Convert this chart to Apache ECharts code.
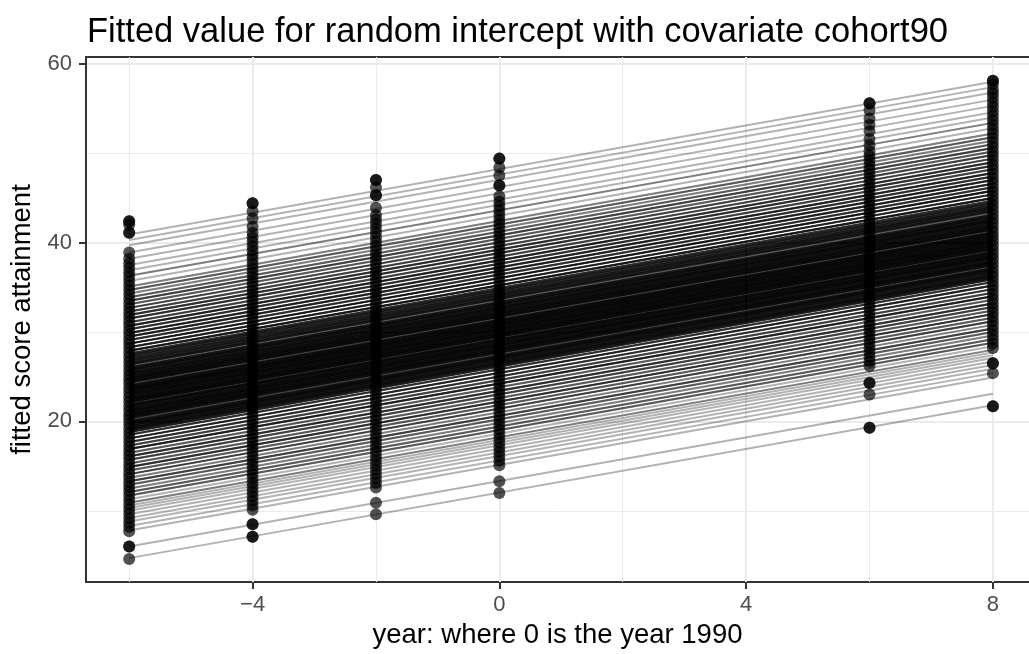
<!DOCTYPE html>
<html>
<head>
<meta charset="utf-8">
<title>Fitted value for random intercept with covariate cohort90</title>
<script src="https://cdn.jsdelivr.net/npm/echarts@6/dist/echarts.min.js"></script>
</head>
<body style="margin:0;background:#fff;">
<div id="main" style="width:1029px;height:654px;"></div>
<script>
// school lines run from the first to the last cohort year
var yearFrom = -6, yearTo = 8;

// fitted value of each school line at year -6 and at year 8
var lineStart = [4.7, 6.0, 7.8, 8.3, 8.8, 9.2, 9.6, 10.0, 10.3, 10.6,
  10.9, 11.3, 11.7, 12.1, 12.5, 12.9, 13.3, 13.7, 14.1, 14.5, 14.9, 15.3, 15.7, 16.1, 16.5, 16.9, 17.3, 17.7, 18.1, 18.5,
  18.8, 19.0, 19.2, 19.4, 19.6, 19.8, 20.0, 20.2, 20.4, 20.6, 20.8, 21.0, 21.2, 21.4, 21.6, 21.8, 22.0, 22.2, 22.4, 22.6,
  22.8, 23.0, 23.2, 23.4, 23.6, 23.8, 24.0, 24.2, 24.4, 24.6, 24.8, 25.0, 25.2, 25.4, 25.6, 25.8, 26.0, 26.2, 26.4, 26.6,
  26.8, 27.0, 27.2, 27.4, 27.6,
  27.9, 28.3, 28.7, 29.1, 29.5, 29.9, 30.3, 30.7, 31.1, 31.5, 31.9, 32.3, 32.7, 33.1, 33.5, 33.9, 34.3, 34.7,
  35.1, 35.7, 36.3, 36.9, 37.5, 38.2, 38.9, 39.7, 40.3, 40.9];
var lineEnd = [21.8, 23.1, 24.9, 25.4, 25.9, 26.3, 26.7, 27.1, 27.4, 27.7,
  28.0, 28.4, 28.8, 29.2, 29.6, 30.0, 30.4, 30.8, 31.2, 31.6, 32.0, 32.4, 32.8, 33.2, 33.6, 34.0, 34.4, 34.8, 35.2, 35.6,
  35.9, 36.1, 36.3, 36.5, 36.7, 36.9, 37.1, 37.3, 37.5, 37.7, 37.9, 38.1, 38.3, 38.5, 38.7, 38.9, 39.1, 39.3, 39.5, 39.7,
  39.9, 40.1, 40.3, 40.5, 40.7, 40.9, 41.1, 41.3, 41.5, 41.7, 41.9, 42.1, 42.3, 42.5, 42.7, 42.9, 43.1, 43.3, 43.5, 43.7,
  43.9, 44.1, 44.3, 44.5, 44.7,
  45.0, 45.4, 45.8, 46.2, 46.6, 47.0, 47.4, 47.8, 48.2, 48.6, 49.0, 49.4, 49.8, 50.2, 50.6, 51.0, 51.4, 51.8,
  52.2, 52.8, 53.4, 54.0, 54.6, 55.3, 56.0, 56.8, 57.4, 58.0];
// how many schools share (overlap on) each line
var lineSchools = [1, 1, 1, 1, 1, 1, 1, 1, 1, 1,
  2, 1, 3, 3, 2, 3, 4, 2, 4, 3, 5, 3, 4, 5, 3, 6, 4, 5, 6, 5,
  6, 7, 8, 7, 8, 9, 8, 4, 8, 9, 9, 8, 10, 9, 8, 9, 5, 9, 10, 9,
  9, 10, 8, 9, 10, 9, 9, 4, 9, 8, 9, 8, 8, 9, 7, 8, 7, 3, 7, 6,
  7, 6, 5, 6, 5,
  7, 6, 7, 5, 6, 6, 5, 6, 4, 5, 5, 4, 4, 3, 4, 3, 2, 3,
  2, 1, 2, 1, 1, 1, 1, 1, 1, 1];

// fitted values of pupils, one list per cohort year
var years = [-6, -4, -2, 0, 6, 8];
var fitM6 = [4.6, 6.0, 6.0, 7.7, 8.2, 8.7, 9.2, 9.7, 10.2, 10.7, 11.2, 11.7, 12.2, 12.7, 13.2, 13.7, 14.2, 14.7, 15.2, 15.7,
  16.2, 16.7, 17.2, 17.7, 18.2, 18.7, 19.2, 19.7, 20.2, 20.7, 21.2, 21.7, 22.2, 22.7, 23.2, 23.7, 24.2, 24.7, 25.2, 25.7,
  26.2, 26.7, 27.2, 27.7, 28.2, 28.7, 29.2, 29.7, 30.2, 30.7, 31.2, 31.7, 32.2, 32.7, 33.2, 33.7, 34.2, 34.7, 35.2, 35.7,
  36.2, 36.7, 37.2, 37.7, 38.2, 38.9, 41.1, 41.1, 42.0, 42.4, 42.4];
var fitM4 = [7.1, 7.1, 8.5, 8.5, 10.1, 10.6, 11.1, 11.6, 12.1, 12.6, 13.1, 13.6, 14.1, 14.6, 15.1, 15.6, 16.1, 16.6, 17.1, 17.6,
  18.1, 18.6, 19.1, 19.6, 20.1, 20.6, 21.1, 21.6, 22.1, 22.6, 23.1, 23.6, 24.1, 24.6, 25.1, 25.6, 26.1, 26.6, 27.1, 27.6,
  28.1, 28.6, 29.1, 29.6, 30.1, 30.6, 31.1, 31.6, 32.1, 32.6, 33.1, 33.6, 34.1, 34.6, 35.1, 35.6, 36.1, 36.6, 37.1, 37.6,
  38.1, 38.6, 39.1, 39.6, 40.1, 40.6, 41.1, 41.8, 42.7, 43.5, 44.4, 44.4];
var fitM2 = [9.6, 10.9, 12.6, 13.1, 13.6, 14.1, 14.6, 15.1, 15.6, 16.1, 16.6, 17.1, 17.6, 18.1, 18.6, 19.1, 19.6, 20.1, 20.6,
  21.1, 21.6, 22.1, 22.6, 23.1, 23.6, 24.1, 24.6, 25.1, 25.6, 26.1, 26.6, 27.1, 27.6, 28.1, 28.6, 29.1, 29.6, 30.1, 30.6,
  31.1, 31.6, 32.1, 32.6, 33.1, 33.6, 34.1, 34.6, 35.1, 35.6, 36.1, 36.6, 37.1, 37.6, 38.1, 38.6, 39.1, 39.6, 40.1, 40.6,
  41.1, 41.6, 42.1, 42.6, 43.1, 43.9, 45.3, 45.3, 46.2, 47.0, 47.0];
var fit0 = [12.0, 13.3, 15.1, 15.6, 16.1, 16.6, 17.1, 17.6, 18.1, 18.6, 19.1, 19.6, 20.1, 20.6, 21.1, 21.6, 22.1, 22.6, 23.1,
  23.6, 24.1, 24.6, 25.1, 25.6, 26.1, 26.6, 27.1, 27.6, 28.1, 28.6, 29.1, 29.6, 30.1, 30.6, 31.1, 31.6, 32.1, 32.6, 33.1,
  33.6, 34.1, 34.6, 35.1, 35.6, 36.1, 36.6, 37.1, 37.6, 38.1, 38.6, 39.1, 39.6, 40.1, 40.6, 41.1, 41.6, 42.1, 42.6, 43.1,
  43.6, 44.1, 44.6, 45.2, 46.4, 46.4, 47.5, 48.4, 49.4, 49.4];
var fit6 = [19.3, 19.3, 23.0, 24.3, 24.3, 26.2, 26.7, 27.2, 27.7, 28.2, 28.7, 29.2, 29.7, 30.2, 30.7, 31.2, 31.7, 32.2, 32.7,
  33.2, 33.7, 34.2, 34.7, 35.2, 35.7, 36.2, 36.7, 37.2, 37.7, 38.2, 38.7, 39.2, 39.7, 40.2, 40.7, 41.2, 41.7, 42.2, 42.7,
  43.2, 43.7, 44.2, 44.7, 45.2, 45.7, 46.2, 46.7, 47.2, 47.7, 48.2, 48.7, 49.2, 49.7, 50.2, 50.9, 51.6, 52.5, 53.2, 53.9,
  54.8, 55.6, 55.6];
var fit8 = [21.7, 21.7, 25.4, 26.5, 26.5, 28.2, 28.7, 29.2, 29.7, 30.2, 30.7, 31.2, 31.7, 32.2, 32.7, 33.2, 33.7, 34.2, 34.7,
  35.2, 35.7, 36.2, 36.7, 37.2, 37.7, 38.2, 38.7, 39.2, 39.7, 40.2, 40.7, 41.2, 41.7, 42.2, 42.7, 43.2, 43.7, 44.2, 44.7,
  45.2, 45.7, 46.2, 46.7, 47.2, 47.7, 48.2, 48.7, 49.2, 49.7, 50.2, 50.7, 51.2, 51.7, 52.2, 52.7, 53.2, 53.7, 54.2, 54.7,
  55.2, 55.7, 56.2, 56.7, 57.1, 57.7, 58.1, 58.1];

// axis breaks
var xLabels = [-4, 0, 4, 8];
var xMinorGrid = [-6, -2, 2, 6];
var yLabels = [20, 40, 60];

var myChart = echarts.init(document.getElementById('main'));

// one line element per school so the transparency builds up
var segs = [];
lineStart.forEach(function (s, i) {
    for (var k = 0; k < lineSchools[i]; k++) {
        segs.push({ coords: [[yearFrom, s], [yearTo, lineEnd[i]]] });
    }
});

var pointCols = [fitM6, fitM4, fitM2, fit0, fit6, fit8];
var pts = [];
years.forEach(function (yr, j) {
    pointCols[j].forEach(function (v) { pts.push([yr, v]); });
});

var gridLines = xLabels.map(function (v) {
    return { xAxis: v, lineStyle: { width: 2 } };
}).concat(xMinorGrid.map(function (v) {
    return { xAxis: v, lineStyle: { width: 1 } };
}));

var font = 'Liberation Sans, Arial, sans-serif';
var dark = '#333333';
var xMin = -6.7, xMax = 8.585;

var option = {
    animation: false,
    title: {
        text: 'Fitted value for random intercept with covariate cohort90',
        left: 87,
        top: 15,
        padding: 0,
        textStyle: { fontFamily: font, fontSize: 34.5, fontWeight: 'normal', color: '#000' }
    },
    grid: { left: 86, top: 57, width: 943, height: 525 },
    xAxis: [{
        type: 'value',
        min: xMin,
        max: xMax,
        splitNumber: 7,
        name: 'year: where 0 is the year 1990',
        nameLocation: 'middle',
        nameGap: 39,
        nameTextStyle: { fontFamily: font, fontSize: 27.5, color: '#000' },
        axisLine: { show: true, onZero: false, lineStyle: { color: dark, width: 2 } },
        axisTick: { show: true, length: 7, customValues: xLabels, lineStyle: { color: dark, width: 2 } },
        axisLabel: {
            customValues: xLabels,
            margin: 12,
            fontFamily: font, fontSize: 22, color: '#4D4D4D',
            formatter: function (v) { return v < 0 ? '\u2212' + Math.abs(v) : String(v); }
        },
        splitLine: { show: false }
    }, {
        // top border of the panel
        type: 'value', position: 'top', min: xMin, max: xMax,
        axisLine: { show: true, onZero: false, lineStyle: { color: dark, width: 2 } },
        axisTick: { show: false }, axisLabel: { show: false }, splitLine: { show: false }
    }],
    yAxis: {
        type: 'value',
        min: 2.03,
        max: 60.77,
        splitNumber: 3,
        name: 'fitted score attainment',
        nameLocation: 'middle',
        nameGap: 50,
        nameTextStyle: { fontFamily: font, fontSize: 27.5, color: '#000' },
        axisLine: { show: true, onZero: false, lineStyle: { color: dark, width: 2 } },
        axisTick: { show: true, length: 7, customValues: yLabels, lineStyle: { color: dark, width: 2 } },
        axisLabel: { customValues: yLabels, margin: 14, fontFamily: font, fontSize: 22, color: '#4D4D4D' },
        splitLine: { show: true, lineStyle: { color: '#EBEBEB', width: 2 } },
        minorTick: { show: false, splitNumber: 2 },
        minorSplitLine: { show: true, lineStyle: { color: '#EBEBEB', width: 1 } }
    },
    series: [{
        type: 'lines',
        coordinateSystem: 'cartesian2d',
        silent: true,
        z: 2,
        lineStyle: { color: '#000', width: 2, opacity: 0.3, curveness: 0 },
        data: segs
    }, {
        type: 'scatter',
        silent: true,
        z: 3,
        symbolSize: 12,
        itemStyle: { color: '#000', opacity: 0.68 },
        data: pts,
        markLine: {
            silent: true,
            z: 1,
            symbol: ['none', 'none'],
            label: { show: false },
            lineStyle: { color: '#EBEBEB', type: 'solid' },
            data: gridLines
        }
    }]
};

myChart.setOption(option);
</script>
</body>
</html>
